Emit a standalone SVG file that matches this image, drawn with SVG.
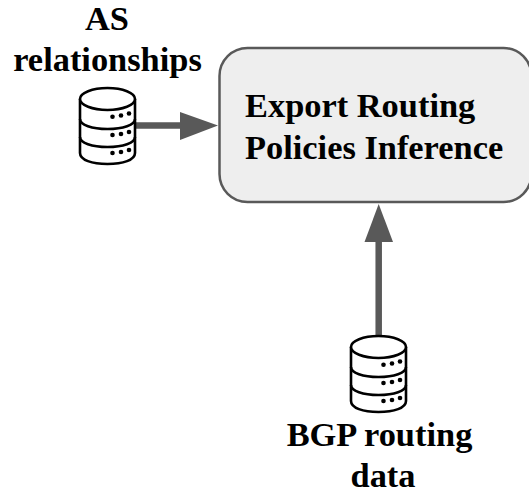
<svg xmlns="http://www.w3.org/2000/svg" width="529" height="491" viewBox="0 0 529 491">
<style>
text{font-family:"Liberation Serif","Times New Roman",serif;font-weight:bold;font-size:34.400px;fill:#000}
.m{text-anchor:middle}
.o{fill:#fff;stroke:#000;stroke-width:2.6}
.l{fill:none;stroke:#000;stroke-width:2.6}
.d{fill:#000}
.shaft{fill:none;stroke:#595959;stroke-width:6.5}
.head{fill:#595959}
</style>
<defs>
<g id="cyl">
<path class="o" d="M0 11V65C0 72 12 76 27.500 76S55 72 55 65V11"/>
<path class="l" d="M0 31C0 37 12 41 27.500 41S55 37 55 31"/>
<path class="l" d="M0 49C0 55 12 59 27.500 59S55 55 55 49"/>
<ellipse class="o" cx="27.500" cy="11" rx="27.500" ry="11"/>
<circle class="d" cx="32.500" cy="28.700" r="2.300"/><circle class="d" cx="41" cy="27.500" r="2.300"/><circle class="d" cx="49" cy="25.500" r="2.300"/>
<circle class="d" cx="32.500" cy="47" r="2.300"/><circle class="d" cx="41" cy="46" r="2.300"/><circle class="d" cx="49" cy="44" r="2.300"/>
<circle class="d" cx="32.500" cy="65" r="2.300"/><circle class="d" cx="41" cy="64" r="2.300"/><circle class="d" cx="49" cy="62" r="2.300"/>
</g>
</defs>
<g id="connectors">
<path class="shaft" d="M135 125.500H182"/>
<polygon class="head" points="180,112 218,125.500 180,140"/>
<path class="shaft" d="M378.700 336V239"/>
<polygon class="head" points="364.500,242 378.700,204 393,242"/>
</g>
<g id="node-inference">
<rect x="219.500" y="48" width="312" height="154" rx="28" ry="28" fill="#eeeeee" stroke="#595959" stroke-width="2.500"/>
<text x="245" y="117">Export Routing</text>
<text x="245" y="158.500">Policies Inference</text>
</g>
<g id="node-as">
<text class="m" x="107" y="30">AS</text>
<text class="m" x="107.500" y="71">relationships</text>
<use href="#cyl" x="80" y="88"/>
</g>
<g id="node-bgp">
<use href="#cyl" x="351" y="336"/>
<text class="m" x="379.500" y="446">BGP routing</text>
<text class="m" x="383" y="486.500">data</text>
</g>
</svg>
